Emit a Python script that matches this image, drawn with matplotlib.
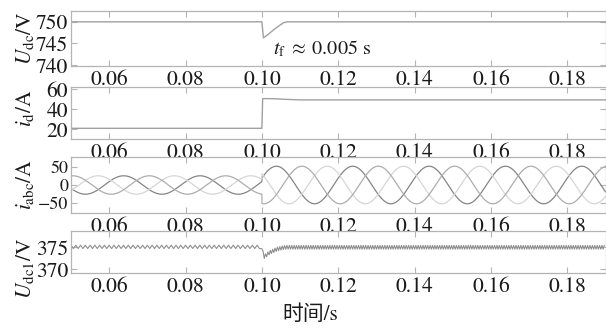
import numpy as np
import matplotlib
matplotlib.use("Agg")
import matplotlib.pyplot as plt

plt.rcParams['font.family'] = ['STIXGeneral', 'Noto Sans CJK SC']
plt.rcParams['mathtext.fontset'] = 'stix'
plt.rcParams['axes.unicode_minus'] = True

# ---- data ----
xticks = [0.06, 0.08, 0.10, 0.12, 0.14, 0.16, 0.18]
xtick_labels = ['0.06', '0.08', '0.10', '0.12', '0.14', '0.16', '0.18']

# DC bus voltage
t_udc = [0.05, 0.1, 0.1004, 0.1015, 0.103, 0.1045, 0.1057, 0.1065, 0.19]
udc = [750, 750, 746.3, 747.0, 748.1, 749.1, 749.8, 750, 750]

# d-axis current
t_id = [0.05, 0.1, 0.1002, 0.103, 0.106, 0.11, 0.19]
id_vals = [21, 21, 50.7, 50.6, 50.0, 49.4, 49.4]

# three phase currents: amplitude before/after step, time of first peak per phase
t_step = 0.1
f_grid = 50
amp_abc = [25, 51]
peak_times = [0.0638, 0.0571, 0.0705]
phase_colors = ['#858585', '#d6d6d6', '#adadad']

# lower capacitor voltage: mean curve and ripple
t_udc1 = [0.05, 0.1, 0.1005, 0.102, 0.104, 0.106, 0.19]
udc1_mean = [375.1, 375.1, 372.8, 373.8, 374.6, 375.0, 375.0]
ripple_freq = [800, 1600]
ripple_amp = [0.38, 0.42]

# ---- figure ----
W, H = 606, 330
fig = plt.figure(figsize=(W / 100, H / 100), dpi=100)

def add_ax(top, bottom):
    return fig.add_axes([71 / W, 1 - bottom / H, 534.5 / W, (bottom - top) / H])

ax1 = add_ax(11, 66)
ax2 = add_ax(86.7, 139.3)
ax3 = add_ax(157, 213)
ax4 = add_ax(231, 273.3)

frame = '#b4b4b4'
for ax in (ax1, ax2, ax3, ax4):
    ax.set_xlim(0.05, 0.19)
    ax.set_xticks(xticks)
    ax.set_xticklabels(xtick_labels)
    ax.tick_params(direction='in', top=True, right=True, length=4, width=0.8,
                   color=frame, labelsize=15.5, labelcolor='#1a1a1a', pad=2)
    ax.tick_params(axis='x', pad=3)
    for s in ax.spines.values():
        s.set_color(frame)
        s.set_linewidth(0.9)

# panel 1
ax1.plot(t_udc, udc, color='#a0a0a0', lw=1.0)
ax1.set_ylim(739.8, 752.5)
ax1.set_yticks([740, 745, 750])
ax1.text(0.1030, 743.7, r'$t_{\mathrm{f}}\;\approx\;$0.005 s', fontsize=14.5,
         va='center', ha='left', color='#1a1a1a')

# panel 2
ax2.plot(t_id, id_vals, color='#a0a0a0', lw=1.0)
ax2.set_ylim(10, 62.6)
ax2.set_yticks([20, 40, 60])

# panel 3
t = np.linspace(0.05, 0.19, 4000)
amp = np.where(t < t_step, amp_abc[0], amp_abc[1])
for tp, c in zip(peak_times, phase_colors):
    ax3.plot(t, amp * np.cos(2 * np.pi * f_grid * (t - tp)), color=c, lw=0.9)
ax3.set_ylim(-76, 76)
ax3.set_yticks([-50, 0, 50])
ax3.tick_params(axis='y', labelsize=13)

# panel 4
t_a = np.arange(0.05, t_step, 0.5 / ripple_freq[0])
t_b = np.arange(t_step, 0.19, 0.5 / ripple_freq[1])
sign_a = np.where(np.arange(len(t_a)) % 2 == 0, 1, -1)
sign_b = np.where(np.arange(len(t_b)) % 2 == 0, -1, 1)
tr = np.concatenate([t_a, t_b])
ur = np.concatenate([np.interp(t_a, t_udc1, udc1_mean) + ripple_amp[0] * sign_a,
                     np.interp(t_b, t_udc1, udc1_mean) + ripple_amp[1] * sign_b])
ax4.plot(tr, ur, color='#8f8f8f', lw=0.8)
ax4.set_ylim(369.1, 378.7)
ax4.set_yticks([370, 375])

# y labels
def ylab(txt, ycen):
    fig.text(25 / W, 1 - ycen / H, txt, rotation=90, ha='center', va='center',
             fontsize=15.5, color='#1a1a1a')

ylab(r'$U_{\mathrm{dc}}$/V', 38)
ylab(r'$i_{\mathrm{d}}$/A', 108)
ylab(r'$i_{\mathrm{abc}}$/A', 184)
ylab(r'$U_{\mathrm{dc1}}$/V', 268)

fig.text(310 / W, 1 - 315 / H, '时间/s', ha='center', va='center', fontsize=15,
         color='#1a1a1a')

fig.savefig('out.png', dpi=100)
